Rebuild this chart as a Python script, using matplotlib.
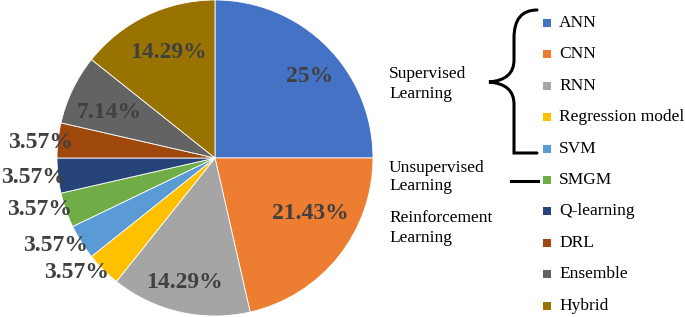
import numpy as np
import matplotlib
matplotlib.use("Agg")
import matplotlib.pyplot as plt
from matplotlib.path import Path
from matplotlib.patches import PathPatch, Rectangle

categories = ["ANN", "CNN", "RNN", "Regression model", "SVM", "SMGM",
              "Q-learning", "DRL", "Ensemble", "Hybrid"]
values = [25, 21.43, 14.29, 3.57, 3.57, 3.57, 3.57, 3.57, 7.14, 14.29]
labels = ["25%", "21.43%", "14.29%", "3.57%", "3.57%", "3.57%", "3.57%",
          "3.57%", "7.14%", "14.29%"]
colors = ["#4472C4", "#ED7D31", "#A5A5A5", "#FFC000", "#5B9BD5", "#70AD47",
          "#264478", "#9E480E", "#636363", "#997300"]
groups = ["Supervised\nLearning", "Unsupervised\nLearning", "Reinforcement\nLearning"]

# label placement (radius fraction, angle offset in degrees)
lab_r = [0.79, 0.70, 0.81, 1.14, 1.15, 1.16, 1.155, 1.11, 0.73, 0.73]
lab_da = [-4.5, 8.5, -0.7, -5.4, -3.4, -2.9, -0.4, 1.4, 2.7, -1.7]

W, H = 685, 317
fig = plt.figure(figsize=(W / 100, H / 100), dpi=100)
serif = "Liberation Serif"

cx, cy, R = 215, 158, 158
ax = fig.add_axes([(cx - R) / W, (H - cy - R) / H, 2 * R / W, 2 * R / H])
wedges, _ = ax.pie(values, colors=colors, startangle=90, counterclock=False,
                   radius=1.0, wedgeprops=dict(edgecolor="white", linewidth=0.6))
ax.set_xlim(-1, 1)
ax.set_ylim(-1, 1)
ax.set_aspect("equal")
ax.axis("off")
for w, lab, r, da in zip(wedges, labels, lab_r, lab_da):
    mid = np.deg2rad((w.theta1 + w.theta2) / 2 + da)
    ax.text(r * np.cos(mid), r * np.sin(mid), lab, ha="center", va="center",
            fontsize=17, fontweight="bold", color="#404040", family=serif,
            clip_on=False)

# overlay in pixel coordinates for legend and group annotations
ov = fig.add_axes([0, 0, 1, 1])
ov.set_xlim(0, W)
ov.set_ylim(H, 0)
ov.axis("off")

leg_x, leg_y0, leg_dy = 547, 23, 31.4
for i, (c, name) in enumerate(zip(colors, categories)):
    y = leg_y0 + i * leg_dy
    ov.add_patch(Rectangle((leg_x - 4, y - 4), 8, 8, facecolor=c, edgecolor="none"))
    ov.text(leg_x + 12, y, name, ha="left", va="center", fontsize=12.5,
            family=serif, color="black")

# brace
top, bot, tipx, tipy, xv, xe = 10, 153, 489, 82, 514, 537
verts = [(xe, top), (xv, top), (xv, top + 28), (xv, top + 32),
         (xv, tipy - 22), (xv, tipy - 2), (tipx, tipy),
         (xv, tipy + 2), (xv, tipy + 22),
         (xv, bot - 32), (xv, bot - 28), (xv, bot), (xe, bot)]
codes = [Path.MOVETO, Path.CURVE3, Path.CURVE3, Path.LINETO,
         Path.LINETO, Path.CURVE3, Path.CURVE3,
         Path.CURVE3, Path.CURVE3,
         Path.LINETO, Path.CURVE3, Path.CURVE3, Path.LINETO]
ov.add_patch(PathPatch(Path(verts, codes), facecolor="none", edgecolor="black",
                       lw=2.2, capstyle="round"))
ov.plot([511, 538], [181, 181], color="black", lw=2.2)

group_y = [84, 177, 228]
for g, y in zip(groups, group_y):
    ov.text(389, y, g, ha="left", va="center", fontsize=12.5, family=serif,
            linespacing=1.25)

fig.savefig("out.png", dpi=100)
